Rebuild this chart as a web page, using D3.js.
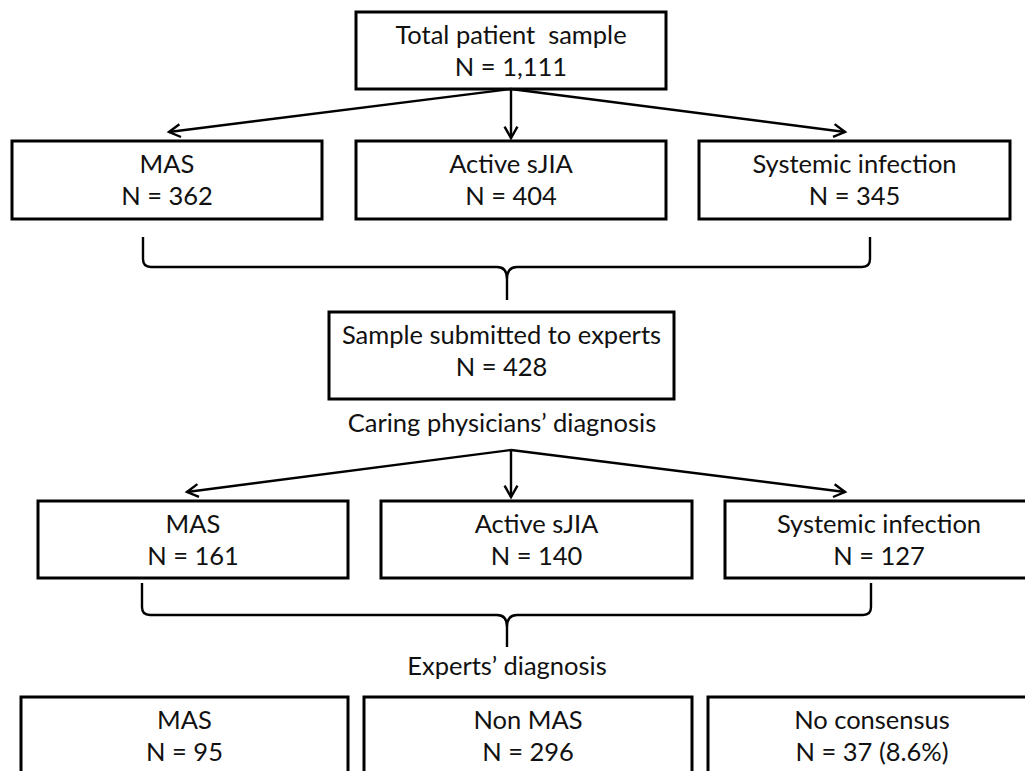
<!DOCTYPE html>
<html>
<head>
<meta charset="utf-8">
<script src="https://cdn.jsdelivr.net/npm/d3@7/dist/d3.min.js"></script>
<style>
  html, body { margin: 0; padding: 0; background: #fff; }
  svg { display: block; }
  text { font-family: Lato, "Open Sans", sans-serif; fill: #111; }
</style>
</head>
<body>
<svg id="chart" width="1025" height="771"></svg>
<script>
// ---- data ----
const topLabels = ["Total patient  sample"];
const topCounts = ["1,111"];
const firstLabels = ["MAS", "Active sJIA", "Systemic infection"];
const firstCounts = ["362", "404", "345"];
const sampleLabels = ["Sample submitted to experts"];
const sampleCounts = ["428"];
const captions = ["Caring physicians\u2019 diagnosis", "Experts\u2019 diagnosis"];
const physicianLabels = ["MAS", "Active sJIA", "Systemic infection"];
const physicianCounts = ["161", "140", "127"];
const expertLabels = ["MAS", "Non MAS", "No consensus"];
const expertCounts = ["95", "296", "37 (8.6%)"];

// ---- layout ----
const svg = d3.select("#chart");
const FS = 25.5;

function boxes(cls, x0s, x1s, y0, y1, labels, counts) {
  const data = labels.map((l, i) => ({ l, n: counts[i], x0: x0s[i], x1: x1s[i] }));
  const g = svg.append("g").attr("class", cls);
  const sel = g.selectAll("g").data(data).join("g");
  sel.append("rect")
    .attr("x", d => d.x0).attr("y", y0)
    .attr("width", d => d.x1 - d.x0).attr("height", y1 - y0)
    .attr("fill", "none").attr("stroke", "#000").attr("stroke-width", 3);
  sel.append("text")
    .attr("x", d => (d.x0 + d.x1) / 2).attr("y", y0 + 32)
    .attr("text-anchor", "middle").attr("font-size", FS)
    .style("white-space", "pre").attr("xml:space", "preserve")
    .text(d => d.l);
  sel.append("text")
    .attr("x", d => (d.x0 + d.x1) / 2).attr("y", y0 + 64)
    .attr("text-anchor", "middle").attr("font-size", FS)
    .text(d => "N = " + d.n);
  return data;
}

function arrow(x0, y0, x1, y1) {
  svg.append("line").attr("x1", x0).attr("y1", y0).attr("x2", x1).attr("y2", y1)
    .attr("stroke", "#000").attr("stroke-width", 2.4);
  const a = Math.atan2(y1 - y0, x1 - x0);
  const L = 13, w = 0.52;
  const p = d3.path();
  p.moveTo(x1 - L * Math.cos(a - w), y1 - L * Math.sin(a - w));
  p.lineTo(x1, y1);
  p.lineTo(x1 - L * Math.cos(a + w), y1 - L * Math.sin(a + w));
  svg.append("path").attr("d", p.toString()).attr("fill", "none")
    .attr("stroke", "#000").attr("stroke-width", 2.4).attr("stroke-linejoin", "miter");
}

function brace(xl, xr, xc, yTop, yBar, yTip) {
  const r = 8;
  const p = d3.path();
  p.moveTo(xl, yTop);
  p.lineTo(xl, yBar - r);
  p.quadraticCurveTo(xl, yBar, xl + r, yBar);
  p.lineTo(xc - 10, yBar);
  p.quadraticCurveTo(xc, yBar, xc, yBar + 12);
  p.quadraticCurveTo(xc, yBar, xc + 10, yBar);
  p.lineTo(xr - r, yBar);
  p.quadraticCurveTo(xr, yBar, xr, yBar - r);
  p.lineTo(xr, yTop);
  p.moveTo(xc, yBar + 12);
  p.lineTo(xc, yTip);
  svg.append("path").attr("d", p.toString()).attr("fill", "none")
    .attr("stroke", "#000").attr("stroke-width", 2.4);
}

// top box
boxes("top", [356], [666], 12, 89, topLabels, topCounts);
// arrows from top
arrow(511, 89, 169, 132);
arrow(511, 89, 511, 138);
arrow(511, 89, 845, 132);
// first split
boxes("first", [12, 356, 699], [322, 666, 1010], 141, 219, firstLabels, firstCounts);
// brace 1
brace(143, 870, 507, 237, 267, 300);
// sample box
boxes("sample", [329], [674], 312, 399, sampleLabels, sampleCounts);
// caption 1
svg.append("text").attr("x", 502).attr("y", 432).attr("text-anchor", "middle")
  .attr("font-size", FS).text(captions[0]);
// arrows 2
arrow(511, 450, 187, 492);
arrow(511, 450, 511, 497);
arrow(511, 450, 845, 492);
// physician boxes
boxes("phys", [38, 381, 725], [348, 692, 1033], 501, 578, physicianLabels, physicianCounts);
// brace 2
brace(142, 871, 507, 583, 615, 647);
// caption 2
svg.append("text").attr("x", 507).attr("y", 675).attr("text-anchor", "middle")
  .attr("font-size", FS).text(captions[1]);
// expert boxes
boxes("expert", [21, 364, 708], [348, 692, 1036], 697, 800, expertLabels, expertCounts);
</script>
</body>
</html>
